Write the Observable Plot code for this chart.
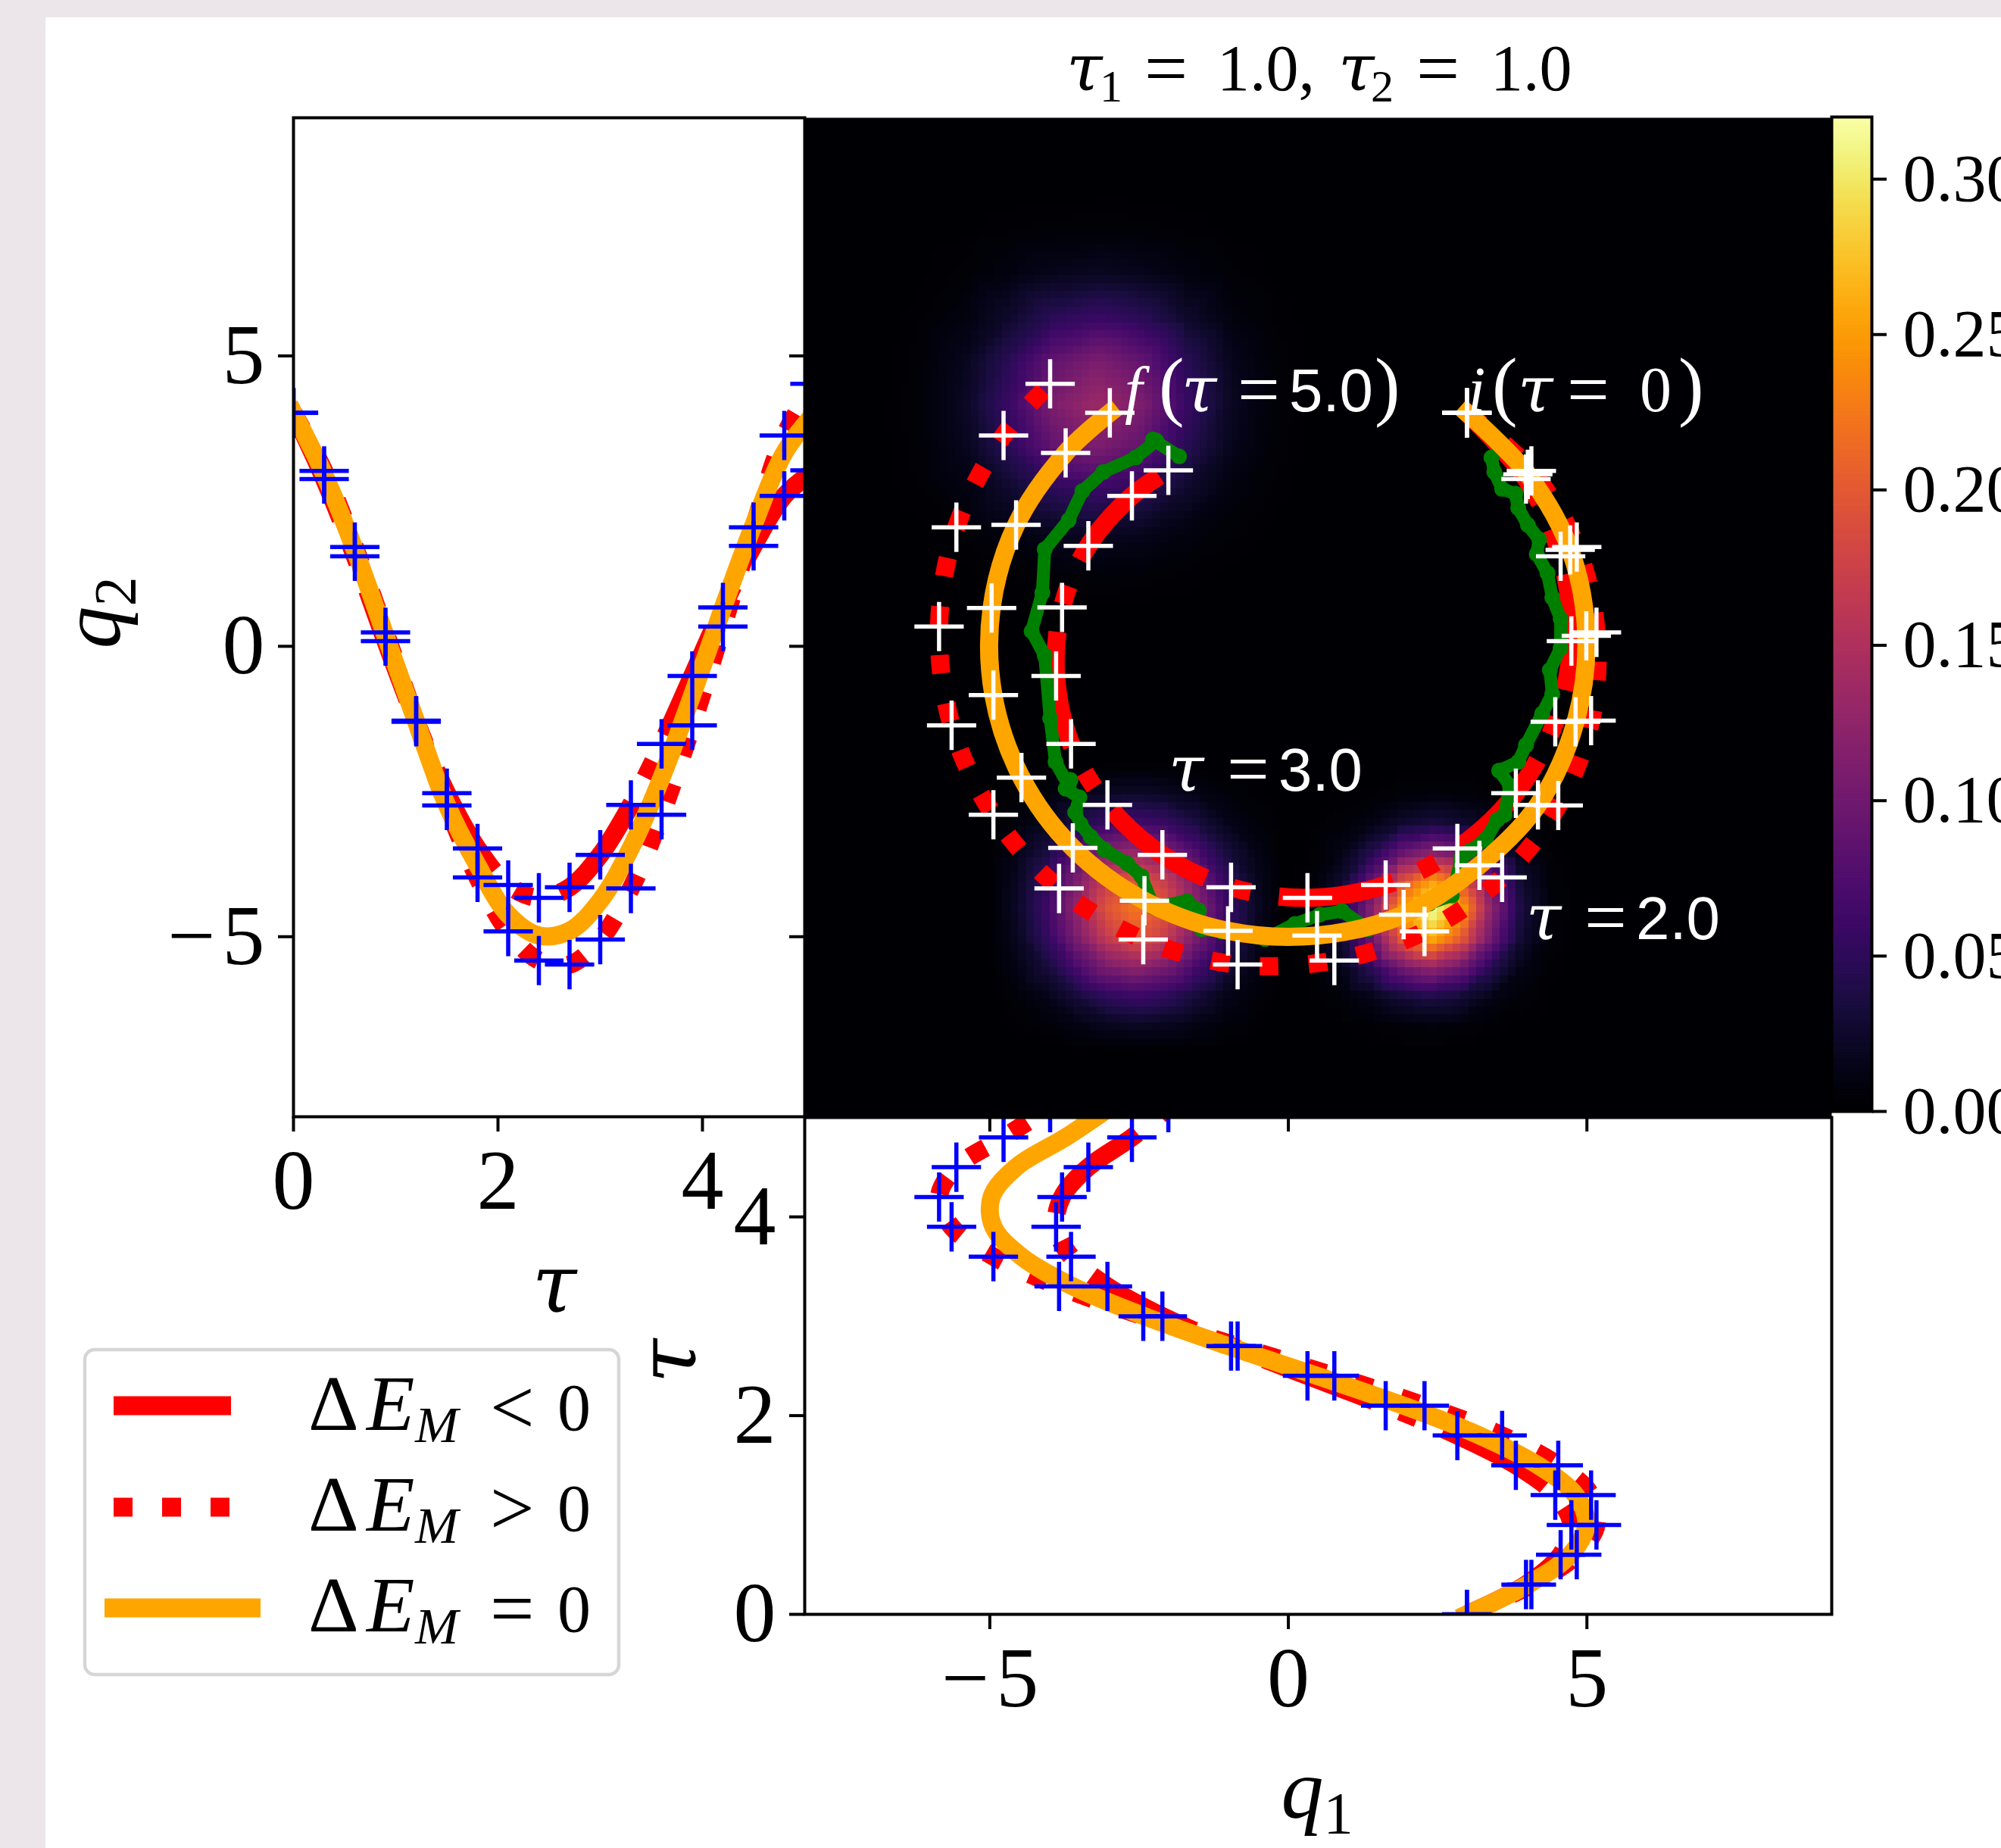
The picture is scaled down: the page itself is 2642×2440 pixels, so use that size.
<!DOCTYPE html>
<html>
<head>
<meta charset="utf-8">
<script src="https://cdn.jsdelivr.net/npm/d3@7"></script>
<script src="https://cdn.jsdelivr.net/npm/@observablehq/plot@0.6"></script>
<style>
html,body{margin:0;padding:0;background:#ece6ea;overflow:hidden;width:2642px;height:2440px}
#sheet{position:absolute;left:60px;top:23px;width:2582px;height:2417px;background:#fff}
#chart{position:absolute;left:0;top:0;width:2642px;height:2440px}
</style>
</head>
<body>
<div id="sheet"></div>
<div id="chart"></div>
<script>
// values
const tau      = [0,0.3,0.6,0.9,1.2,1.5,1.8,2.1,2.4,2.7,3.0,3.3,3.6,3.9,4.2,4.5,4.8,5.1];
const q1Solid  = [2.99,3.98,4.56,4.74,4.47,3.81,2.83,1.63,0.32,-0.96,-2.11,-3.03,-3.64,-3.89,-3.79,-3.35,-2.62,-2.01];
const q2Solid  = [4.02,2.88,1.55,0.09,-1.30,-2.53,-3.48,-4.11,-4.33,-4.15,-3.59,-2.73,-1.68,-0.51,0.67,1.73,2.59,3.03];
const q1Dotted = [2.99,4.07,4.83,5.16,5.07,4.52,3.58,2.28,0.77,-0.85,-2.43,-3.84,-4.94,-5.64,-5.85,-5.56,-4.77,-3.99];
const q2Dotted = [4.02,3.02,1.71,0.24,-1.28,-2.74,-3.98,-4.91,-5.41,-5.48,-5.05,-4.17,-2.90,-1.36,0.34,2.05,3.63,4.52];
const q1Zero   = [2.99,4.01,4.72,4.99,4.81,4.18,3.20,1.93,0.48,-1.01,-2.41,-3.61,-4.47,-4.94,-4.97,-4.56,-3.73,-2.99];
const q2Zero   = [4.02,2.96,1.66,0.18,-1.30,-2.73,-3.77,-4.62,-4.98,-4.90,-4.38,-3.47,-2.26,-0.84,0.66,2.09,3.33,4.02];
const q1Green  = [3.40,3.45,3.58,3.80,3.85,4.01,4.20,4.16,4.34,4.42,4.56,4.56,4.38,4.42,4.25,3.98,3.85,3.53,3.71,3.62,3.50,3.31,3.04,2.90,2.74,2.36,1.34,0.90,0.53,0.11,-0.39,-1.12,-1.45,-1.50,-1.70,-2.26,-2.46,-2.70,-3.08,-3.31,-3.48,-3.57,-3.50,-3.73,-3.65,-3.68,-3.90,-3.99,-4.08,-4.30,-4.12,-4.08,-3.68,-3.45,-3.10,-2.56,-2.21,-2.27,-1.83];
const q2Green  = [3.25,3.00,2.71,2.63,2.38,2.09,1.84,1.59,1.26,0.84,0.47,-0.03,-0.41,-0.82,-1.16,-1.70,-1.99,-2.14,-2.40,-2.90,-2.99,-3.32,-3.52,-3.64,-4.29,-4.43,-4.87,-4.56,-4.62,-4.78,-5.04,-4.91,-4.87,-4.55,-4.39,-4.49,-3.96,-3.74,-3.50,-3.28,-3.06,-2.86,-2.60,-2.45,-2.30,-2.40,-1.99,-1.24,-0.16,0.26,0.92,1.67,2.17,2.67,3.00,3.25,3.54,3.56,3.27];

// density: sample rows (top to bottom) around each bright patch
const blobCentre = [[2.40,-4.55],[-2.55,-4.50],[-3.20,4.17]];
const blobStep   = [0.5,0.5,0.75];
const blobTau2 = [
 [0,0,0,0,0,0,0,0,0,0,0],
 [0,0,.0008,.002,.0046,.006,.0046,.002,.0008,0,0],
 [0,.0008,.004,.012,.026,.034,.026,.012,.004,.0008,0],
 [0,.002,.012,.043,.092,.118,.094,.043,.012,.002,0],
 [0,.0046,.026,.092,.194,.255,.198,.094,.026,.0046,0],
 [0,.006,.034,.118,.25,.32,.258,.122,.035,.006,0],
 [0,.0046,.026,.094,.198,.258,.198,.096,.027,.0046,0],
 [0,.002,.012,.045,.096,.122,.096,.045,.012,.002,0],
 [0,.0008,.004,.013,.028,.036,.028,.013,.004,.0008,0],
 [0,0,.0008,.002,.005,.006,.005,.002,.0008,0,0],
 [0,0,0,0,0,0,0,0,0,0,0]];
const blobTau3 = [
 [0,0,0,0,0,0,0,0,0,0,0],
 [0,.002,.005,.012,.018,.021,.018,.012,.005,.002,0],
 [0,.005,.015,.033,.052,.06,.052,.033,.015,.005,0],
 [0,.012,.033,.069,.108,.125,.108,.069,.033,.012,0],
 [0,.018,.052,.108,.167,.194,.167,.108,.052,.018,0],
 [0,.021,.06,.125,.194,.225,.196,.125,.06,.021,0],
 [0,.018,.053,.11,.17,.2,.17,.108,.052,.018,0],
 [0,.012,.033,.071,.11,.128,.108,.069,.033,.012,0],
 [0,.005,.015,.033,.053,.062,.052,.033,.015,.005,0],
 [0,.002,.005,.012,.018,.021,.018,.012,.005,.002,0],
 [0,0,0,0,0,0,0,0,0,0,0]];
const blobFinal = [
 [0,0,0,0,0,0,0,0,0,0,0],
 [0,.0001,.0006,.002,.0035,.004,.0035,.002,.0006,.0001,0],
 [0,.0006,.003,.008,.0155,.019,.0155,.008,.003,.0006,0],
 [0,.002,.008,.024,.046,.057,.046,.024,.008,.002,0],
 [0,.0035,.0155,.046,.088,.109,.088,.046,.0155,.0035,0],
 [0,.004,.019,.057,.109,.135,.109,.057,.019,.004,0],
 [0,.0035,.0155,.046,.088,.109,.088,.046,.0155,.0035,0],
 [0,.002,.008,.024,.046,.057,.046,.024,.008,.002,0],
 [0,.0006,.003,.008,.0155,.019,.0155,.008,.003,.0006,0],
 [0,.0001,.0006,.002,.0035,.004,.0035,.002,.0006,.0001,0],
 [0,0,0,0,0,0,0,0,0,0,0]];
const blobs = [blobTau2, blobTau3, blobFinal];

const q1Ticks = [-5,0,5], q2Ticks = [-5,0,5], tauTicksLeft = [0,2,4], tauTicksBottom = [0,2,4];
const barTicks = [0,0.05,0.10,0.15,0.20,0.25,0.30];

const q1Domain = [-8.1,9.1], q2Domain = [-8.1,9.1], tauDomain = [0,5], barMax = 0.32;

// tables for the marks
const rows = tau.map((t,i)=>({t,q1s:q1Solid[i],q2s:q2Solid[i],q1d:q1Dotted[i],q2d:q2Dotted[i],q1z:q1Zero[i],q2z:q2Zero[i]}));
const green = q1Green.map((q1,i)=>({q1,q2:q2Green[i]}));
const density = [];
blobs.forEach((tbl,b)=>tbl.forEach((row,j)=>row.forEach((v,i)=>density.push({
  q1:blobCentre[b][0]+(i-5)*blobStep[b], q2:blobCentre[b][1]+(5-j)*blobStep[b], v}))));
for (const q1 of q1Domain) for (const q2 of q2Domain) density.push({q1,q2,v:0});
const barLevels = d3.range(0,barMax,0.001).map(v=>({v,v2:v+0.0012}));

const W=2642,H=2440, serif="Liberation Serif", red="#ff0000", orange="#ffa500", lw=24, armR=21, crossW=5.5;
const tickLen=20, big=112;
const base = m => ({width:W,height:H,marginLeft:m[0],marginRight:W-m[1],marginTop:m[2],marginBottom:H-m[3],
  style:{position:"absolute",left:"0",top:"0",background:"transparent",fontFamily:serif,maxWidth:"none",color:"#000"}});
const lineOpts = {strokeWidth:lw, curve:"catmull-rom", clip:true};
const trajMarks = (xs,ys,xd,yd)=>[
  Plot.line(rows,{x:xs,y:ys,stroke:red,strokeLinecap:"butt",strokeDasharray:"154 38 24 38",...lineOpts}),
  Plot.line(rows,{x:xd,y:yd,stroke:red,strokeLinecap:"butt",strokeDasharray:"24.5 40",...lineOpts}),
];
const crossMarks = (pairs,col)=>pairs.map(([x,y])=>Plot.dot(rows,{x,y,symbol:"plus",r:armR,stroke:col,strokeWidth:crossW,clip:true}));
const orangeLine = (x,y)=>Plot.line(rows,{x,y,stroke:orange,strokeLinecap:"square",...lineOpts});
const minus = d => d<0 ? "\u2212\u200a"+Math.abs(d) : String(d);

// left panel: q2 against tau
const left = Plot.plot({...base([387,1062,155,1474]),
  x:{domain:tauDomain,axis:null}, y:{domain:q2Domain,axis:null},
  marks:[
    ...trajMarks("t","q2s","t","q2d"),
    orangeLine("t","q2z"),
    ...crossMarks([["t","q2s"],["t","q2d"]],"#0000ff"),
    Plot.frame({stroke:"#000",strokeWidth:4}),
    Plot.axisX({ticks:tauTicksLeft,tickSize:tickLen,tickPadding:22,strokeWidth:4,fontSize:big,label:null,anchor:"bottom",tickFormat:minus,fill:"#000"}),
    Plot.axisY({ticks:q2Ticks,tickSize:tickLen,tickPadding:18,strokeWidth:4,fontSize:big,label:null,anchor:"left",tickFormat:minus,fill:"#000"})
  ]});

// bottom panel: tau against q1
const bottom = Plot.plot({...base([1062,2418,1475,2131]),
  x:{domain:q1Domain,axis:null}, y:{domain:tauDomain,axis:null},
  marks:[
    ...trajMarks("q1s","t","q1d","t"),
    orangeLine("q1z","t"),
    ...crossMarks([["q1s","t"],["q1d","t"]],"#0000ff"),
    Plot.frame({stroke:"#000",strokeWidth:4}),
    Plot.axisX({ticks:q1Ticks,tickSize:tickLen,tickPadding:22,strokeWidth:4,fontSize:big,label:null,anchor:"bottom",tickFormat:minus,fill:"#000"}),
    Plot.axisY({ticks:tauTicksBottom,tickSize:tickLen,tickPadding:18,strokeWidth:4,fontSize:big,label:null,anchor:"left",tickFormat:minus,fill:"#000"})
  ]});

// main panel: density and trajectories in (q1,q2)
const colour = {type:"linear",scheme:"inferno",domain:[0,barMax]};
const xTickEnd = q2Domain[0]-tickLen/76.69, yTickEnd = q1Domain[0]-tickLen/78.84;
const main = Plot.plot({...base([1062,2418,155,1474]),
  x:{domain:q1Domain,axis:null}, y:{domain:q2Domain,axis:null}, color:colour,
  marks:[
    Plot.raster(density,{x:"q1",y:"q2",fill:"v",interpolate:"barycentric",pixelSize:10.4,imageRendering:"pixelated"}),
    ...trajMarks("q1s","q2s","q1d","q2d"),
    Plot.line(green,{x:"q1",y:"q2",stroke:"#008000",strokeWidth:17,strokeLinecap:"round",strokeLinejoin:"round",clip:true}),
    Plot.dot(green,{x:"q1",y:"q2",r:10.5,fill:"#008000",clip:true}),
    orangeLine("q1z","q2z"),
    ...crossMarks([["q1s","q2s"],["q1d","q2d"],["q1z","q2z"]],"#ffffff"),
    Plot.ruleX(q1Ticks,{x:d=>d,y1:q2Domain[0],y2:xTickEnd,stroke:"#000",strokeWidth:4}),
    Plot.ruleY(q2Ticks,{y:d=>d,x1:q1Domain[0],x2:yTickEnd,stroke:"#000",strokeWidth:4})
  ]});

// colour bar
const bar = Plot.plot({...base([2418,2471,154,1467]),
  y:{domain:[0,barMax],axis:null}, color:colour,
  marks:[
    Plot.rectY(barLevels,{y1:"v",y2:"v2",fill:"v"}),
    Plot.frame({stroke:"#000",strokeWidth:4}),
    Plot.axisY({ticks:barTicks,tickSize:19,tickPadding:22,strokeWidth:4,fontSize:88,label:null,anchor:"right",tickFormat:d3.format(".2f"),fill:"#000"})
  ]});

// titles, annotations and legend as text over the panels
const over = d3.create("svg").attr("width",W).attr("height",H)
  .style("position","absolute").style("left",0).style("top",0);
const I={fontStyle:"italic"}, N={}, S={sans:true}, T={tau:true}, P={paren:true}, Q={wide:true,eq:true}, B={wide:true};
function put(parts,x,y,size,color,opt={}){
  const t=over.append("text").attr("x",x).attr("y",y).attr("fill",color).attr("font-family",serif).attr("font-size",size);
  if(opt.anchor) t.attr("text-anchor",opt.anchor);
  if(opt.rotate!=null) t.attr("transform",`rotate(${opt.rotate} ${x} ${y})`);
  parts.forEach(([s,st={},px])=>{
    const p=t.append("tspan").text(s);
    if(px!=null) p.attr("x",px);
    if(st.fontStyle) p.attr("font-style",st.fontStyle);
    if(st.tau) p.attr("font-family","DejaVu Serif").attr("font-style","italic").attr("font-size",size*1.0);
    if(st.sans) p.attr("font-family","Liberation Sans").attr("font-size",size*0.95);
    if(st.paren) p.attr("font-size",size*1.2);
    if(st.wide) p.attr("font-size",size*1.18);
    if(st.eq) p.attr("baseline-shift",-size*0.06);
    if(st.sub){p.attr("font-size",size*(st.subSize||0.7)).attr("dy",size*0.18);}
    if(st.up){p.attr("dy",-size*0.18);}
  });
  return t;
}
put([["τ",T,1408],["1",{sub:true},1452],["=",{...Q,up:true},1511],["1.0,",N,1607],["τ",T,1767],["2",{sub:true},1810],["=",{...Q,up:true},1870],["1.0",N,1968]],1410,119,86,"#000");
put([["f",I,1485],["(",P,1530],["τ",T,1560],["=",Q,1634],["5.0",S,1702],[")",P,1815]],1485,543,84,"#fff");
put([["i",I,1938],["(",P,1970],["τ",T,2004],["=",Q,2069],["0",N,2165],[")",P,2216]],1938,543,84,"#fff");
put([["τ",T,1543],["=",Q,1620],["3.0",S,1688]],1545,1044,84,"#fff");
put([["τ",T,2015],["=",Q,2092],["2.0",S,2160]],2017,1240,84,"#fff");
put([["τ",T]],732,1732,big*0.95,"#000",{anchor:"middle"});
put([["τ",T]],918,1797,big*0.95,"#000",{anchor:"middle",rotate:-90});
put([["q",I],["2",{sub:true}]],158,809,big,"#000",{anchor:"middle",rotate:-90});
put([["q",I],["1",{sub:true}]],1739,2400,big,"#000",{anchor:"middle"});

over.append("rect").attr("x",112).attr("y",1782).attr("width",705).attr("height",429).attr("rx",13)
  .attr("fill","#fff").attr("stroke","#d6d6d6").attr("stroke-width",4.5);
const legendRows=[
  {y:1856,base:1888,x1:150,x2:305,dash:null,color:red,op:"<"},
  {y:1990,base:2021,x1:150,x2:304,dash:"25 39",color:red,op:">"},
  {y:2123,base:2154,x1:138,x2:344,dash:null,color:orange,op:"="}];
legendRows.forEach(r=>{
  over.append("line").attr("x1",r.x1).attr("x2",r.x2).attr("y1",r.y).attr("y2",r.y)
    .attr("stroke",r.color).attr("stroke-width",25).attr("stroke-dasharray",r.dash);
  put([["Δ",B,407],["E",{...I,wide:true},484],["M",{...I,sub:true,subSize:0.78},548],[r.op,{...Q,up:true},647],["0",N,736]],409,r.base,88,"#000");
});

const box=document.getElementById("chart");
[left,bottom,main,bar,over.node()].forEach(n=>box.appendChild(n));
</script>
</body>
</html>
